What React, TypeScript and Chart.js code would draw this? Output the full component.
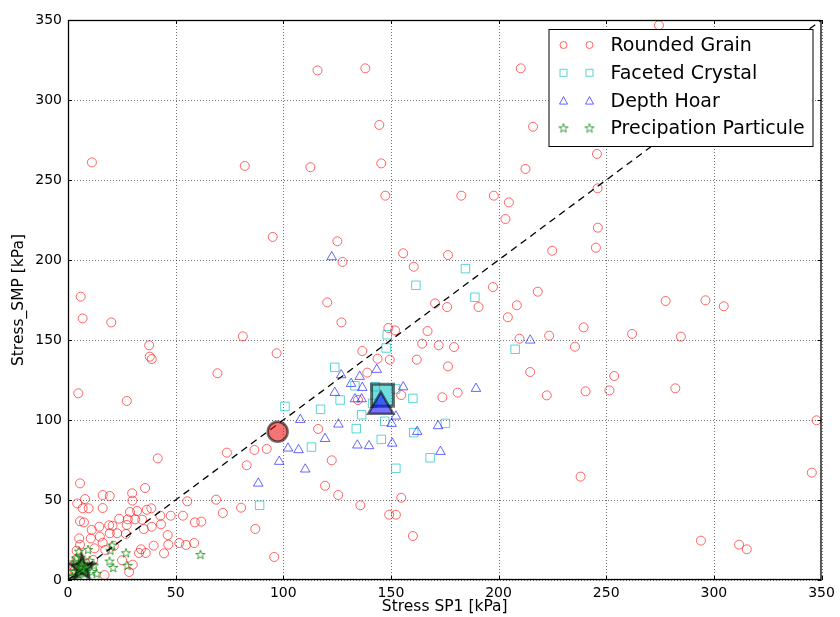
import React, { useEffect, useRef } from "react";
import { Chart, registerables } from "chart.js";

Chart.register(...registerables);

const AXIS_TICKS = [0, 50, 100, 150, 200, 250, 300, 350];
const SERIES_LABELS = ["Rounded Grain", "Faceted Crystal", "Depth Hoar", "Precipation Particule"];
const X_TITLE = "Stress SP1 [kPa]";
const Y_TITLE = "Stress_SMP [kPa]";

const roundedGrain: [number, number][] = [
  [11.1, 261], [82.1, 258.8], [112.6, 258], [115.9, 318.5], [138.1, 319.8], [210.3, 319.8], [144.6, 284.4], [216, 283.3],
  [145.5, 260.4], [212.5, 256.9], [147.4, 240.2], [182.7, 240.2], [197.8, 240.2], [204.8, 236], [274.5, 346.7], [245.7, 266.3],
  [246, 244.8], [95.1, 214.4], [125.1, 211.7], [155.7, 204.2], [176.5, 203.1], [127.5, 198.8], [160.6, 195.8], [197.4, 183.1],
  [120.4, 173.5], [170.5, 172.9], [176.1, 170.6], [190.7, 170.6], [204.3, 164.2], [208.5, 171.7], [203.2, 225.6], [127, 161],
  [148.8, 157.5], [151.9, 156], [167, 155.6], [81.2, 152.3], [96.9, 141.7], [164.5, 147.7], [172.2, 146.7], [179.3, 145.6],
  [136.7, 143.1], [143.8, 138.3], [149.5, 137.7], [162, 137.7], [176.5, 133.5], [139, 129.6], [181, 117.1], [173.9, 114.2],
  [154.8, 115.6], [116.2, 94.4], [134.7, 112.5], [86.6, 81.3], [92.3, 81.9], [83, 71.7], [80.4, 45.2], [87, 31.9],
  [95.8, 14.4], [122.5, 74.8], [119.4, 58.9], [125.5, 53.1], [135.8, 46.7], [154.8, 51.4], [149.2, 40.8], [152.3, 40.8],
  [160.2, 27.5], [246.1, 220.2], [245.2, 207.7], [224.9, 205.8], [218.2, 180.2], [277.6, 174.4], [296.1, 174.8], [304.6, 171.1],
  [239.5, 157.9], [223.5, 152.7], [209.7, 150.8], [262, 153.8], [284.7, 152.1], [235.5, 145.8], [214.7, 130], [253.7, 127.5],
  [222.4, 115.4], [240.4, 117.9], [251.5, 118.5], [282.1, 119.8], [347.7, 99.8], [238.1, 64.6], [345.5, 67.1], [294, 24.6],
  [311.7, 22.1], [315.3, 19.2], [5.9, 177.1], [6.8, 163.5], [20.1, 161], [37.7, 146.7], [38, 139.6], [38.9, 138.1],
  [69.4, 129.2], [4.8, 116.7], [27.3, 111.9], [41.7, 76], [5.6, 60.4], [73.8, 79.6], [35.8, 57.5], [16.1, 53.1],
  [19.4, 52.5], [29.8, 54.2], [7.9, 50.6], [4.3, 47.9], [29.9, 49.6], [55.4, 49.2], [68.8, 50.2], [71.9, 41.9],
  [6.8, 44.8], [9.6, 44.8], [16.1, 45], [28.8, 42.5], [32.1, 43.1], [36.6, 43.9], [38.7, 44.8], [42.9, 40.2],
  [47.7, 40.2], [53.4, 40.2], [58.9, 36], [61.9, 36.5], [5.6, 36.7], [7.4, 36], [14.5, 33.3], [19.1, 34.2],
  [20.7, 33.9], [23.8, 38.3], [27.8, 37.9], [27.3, 34.4], [31.2, 37.9], [34.5, 37.7], [35.2, 31.9], [38.9, 33.3],
  [43.2, 34.8], [46.3, 28.1], [11, 31.3], [5.2, 26], [10.6, 26], [14.8, 27.1], [16.1, 23.3], [19.4, 29.2],
  [22.8, 29.2], [26.9, 28.8], [5.6, 22.1], [4, 18.3], [12.3, 19.8], [17.3, 18.8], [21.3, 21.3], [33.9, 19.2],
  [33, 16.9], [36.1, 16.9], [39.8, 21.5], [44.6, 16.7], [46.6, 22.1], [51.7, 23.1], [54.8, 21.9], [58.6, 23.1],
  [25.1, 12.3], [30.1, 9.6], [28.4, 5], [17, 3.1], [11.7, 12.5], [2.5, 9], [4, 13], [1.5, 4], [8, 11], [3, 6],
];

const facetedCrystal: [number, number][] = [
  [184.6, 194.6], [161.6, 184.2], [189, 176.7], [148.3, 153.3], [207.7, 144.2], [147.8, 145], [123.9, 132.9], [133.3, 121.4],
  [142.7, 120.8], [152.2, 119.4], [160.2, 113.5], [100.8, 108.5], [117.3, 106.7], [126.4, 112.5], [136.4, 103.3], [133.9, 94.6],
  [145.5, 87.9], [147.1, 99.2], [141.5, 110.4], [160.6, 92.1], [175.3, 97.9], [168.2, 76.4], [152.3, 69.8], [113.1, 83.1],
  [89, 46.7],
];

const depthHoar: [number, number][] = [
  [122.5, 201.9], [143.4, 131.5], [126.9, 128.1], [135.5, 127.1], [131.5, 122.7], [136.7, 120.2], [155.7, 120.6], [189.5, 119.6],
  [123.9, 117.1], [107.9, 100.2], [125.6, 97.3], [133.3, 113.1], [136.4, 113.1], [134.4, 84.2], [139.8, 83.8], [150.3, 97.7],
  [152.3, 102.3], [150.6, 85.4], [162.2, 92.7], [171.9, 96.3], [173, 80.2], [119.4, 88.3], [102.2, 82.3], [107.1, 81.3],
  [98.1, 74], [110.2, 69.2], [88.4, 60.4], [214.7, 149.8],
];

const precipParticle: [number, number][] = [
  [9.3, 18.8], [5.1, 17.7], [20.5, 21.5], [19.7, 18.3], [26.9, 16.7], [19.3, 11.5], [21, 7.5], [27.6, 8.8],
  [13.3, 3.8], [3.7, 13.5], [61.5, 15.7], [2, 2], [3, 5], [4, 8], [5, 3], [6, 10], [7, 6], [8, 4], [9, 8],
  [10, 12], [1, 1], [3, 11], [11, 5], [6, 14], [4, 1], [12, 9],
];

const roundedMean: [number, number] = [97.4, 92.7];
const facetedMean: [number, number] = [146.1, 115.5];
const depthMean: [number, number] = [145.3, 108.5];
const precipMean: [number, number] = [6.5, 7.5];

const identityLine: [number, number][] = [[0, 0], [350, 350]];

const RED = "rgba(255,0,0,0.6)";
const CYAN = "rgba(0,191,191,0.65)";
const BLUE = "rgba(0,0,255,0.6)";
const GREEN = "rgba(0,128,0,0.75)";
const FONT = "'DejaVu Sans', sans-serif";

function starPath(ctx: CanvasRenderingContext2D, cx: number, cy: number, R: number) {
  ctx.beginPath();
  for (let i = 0; i < 10; i++) {
    const r = i % 2 === 0 ? R : R * 0.4;
    const a = -Math.PI / 2 + (i * Math.PI) / 5;
    const px = cx + r * Math.cos(a);
    const py = cy + r * Math.sin(a);
    if (i === 0) ctx.moveTo(px, py);
    else ctx.lineTo(px, py);
  }
  ctx.closePath();
}

function makeStar(R: number, stroke: string, fill: string | null, lw: number) {
  const c = document.createElement("canvas");
  const s = Math.ceil(2 * R + 2 * lw + 2);
  c.width = s;
  c.height = s;
  const ctx = c.getContext("2d")!;
  starPath(ctx, s / 2, s / 2, R);
  if (fill) {
    ctx.fillStyle = fill;
    ctx.fill();
  }
  ctx.lineWidth = lw;
  ctx.strokeStyle = stroke;
  ctx.lineJoin = "miter";
  ctx.stroke();
  return c;
}

const toPts = (a: [number, number][]) => a.map(([x, y]) => ({ x, y }));

export default function App() {
  const ref = useRef<HTMLCanvasElement>(null);

  useEffect(() => {
    document.body.style.margin = "0";
    const canvas = ref.current!;
    const smallStar = makeStar(4.8, GREEN, null, 1);
    const bigStar = makeStar(13, "rgba(0,0,0,0.65)", "rgba(0,110,0,0.65)", 2.5);

    const decor = {
      id: "decor",
      beforeDatasetsDraw(chart: any) {
        const { ctx, chartArea: a, scales } = chart;
        ctx.save();
        ctx.strokeStyle = "rgba(0,0,0,0.55)";
        ctx.lineWidth = 1;
        ctx.setLineDash([1, 2]);
        for (const v of AXIS_TICKS) {
          const x = Math.round(scales.x.getPixelForValue(v)) + 0.5;
          ctx.beginPath();
          ctx.moveTo(x, a.top);
          ctx.lineTo(x, a.bottom);
          ctx.stroke();
          const y = Math.round(scales.y.getPixelForValue(v)) + 0.5;
          ctx.beginPath();
          ctx.moveTo(a.left, y);
          ctx.lineTo(a.right, y);
          ctx.stroke();
        }
        ctx.restore();
      },
      afterDraw(chart: any) {
        const { ctx, chartArea: a, scales } = chart;
        ctx.save();
        ctx.strokeStyle = "#000";
        ctx.lineWidth = 1.3;
        ctx.setLineDash([]);
        ctx.strokeRect(a.left + 0.5, a.top + 0.5, a.right - a.left - 1, a.bottom - a.top - 1);
        ctx.lineWidth = 1;
        for (const v of AXIS_TICKS) {
          const x = Math.round(scales.x.getPixelForValue(v)) + 0.5;
          const y = Math.round(scales.y.getPixelForValue(v)) + 0.5;
          ctx.beginPath();
          ctx.moveTo(x, a.bottom);
          ctx.lineTo(x, a.bottom - 4);
          ctx.moveTo(x, a.top);
          ctx.lineTo(x, a.top + 4);
          ctx.moveTo(a.left, y);
          ctx.lineTo(a.left + 4, y);
          ctx.moveTo(a.right, y);
          ctx.lineTo(a.right - 4, y);
          ctx.stroke();
        }
        const bw = 264;
        const bh = 117;
        const bx = a.right - 9 - bw;
        const by = a.top + 9;
        ctx.fillStyle = "#fff";
        ctx.fillRect(bx, by, bw, bh);
        ctx.strokeStyle = "#000";
        ctx.lineWidth = 1;
        ctx.strokeRect(bx + 0.5, by + 0.5, bw, bh);
        ctx.font = `19px ${FONT}`;
        ctx.textBaseline = "middle";
        ctx.textAlign = "left";
        SERIES_LABELS.forEach((label, i) => {
          const ry = by + 16 + i * 27.8;
          [bx + 15, bx + 41].forEach((mx) => {
            ctx.lineWidth = 1;
            if (i === 0) {
              ctx.strokeStyle = RED;
              ctx.beginPath();
              ctx.arc(mx, ry, 3.5, 0, Math.PI * 2);
              ctx.stroke();
            } else if (i === 1) {
              ctx.strokeStyle = CYAN;
              ctx.strokeRect(mx - 3.5, ry - 3.5, 7, 7);
            } else if (i === 2) {
              ctx.strokeStyle = BLUE;
              ctx.beginPath();
              ctx.moveTo(mx, ry - 4);
              ctx.lineTo(mx + 4, ry + 3.5);
              ctx.lineTo(mx - 4, ry + 3.5);
              ctx.closePath();
              ctx.stroke();
            } else {
              ctx.drawImage(smallStar, mx - smallStar.width / 2, ry - smallStar.height / 2);
            }
          });
          ctx.fillStyle = "#000";
          ctx.fillText(label, bx + 62, ry + 1);
        });
        ctx.restore();
      },
    };

    const small = (data: [number, number][], style: any, color: string, radius: number, order: number, label: string) => ({
      type: "scatter",
      label,
      data: toPts(data),
      pointStyle: style,
      pointRadius: radius,
      pointBorderColor: color,
      pointBackgroundColor: "rgba(0,0,0,0)",
      pointBorderWidth: 1,
      clip: 0,
      order,
    });

    const mean = (pt: [number, number], style: any, fill: string, radius: number, bw: number, order: number) => ({
      type: "scatter",
      label: "mean",
      data: [{ x: pt[0], y: pt[1] }],
      pointStyle: style,
      pointRadius: radius,
      pointBorderColor: "rgba(0,0,0,0.55)",
      pointBackgroundColor: fill,
      pointBorderWidth: bw,
      clip: 0,
      order,
    });

    const chart = new Chart(canvas, {
      type: "scatter",
      data: {
        datasets: [
          mean(depthMean, "triangle", "rgba(0,0,255,0.55)", 14.5, 2.5, 0),
          mean(facetedMean, "rect", "rgba(0,191,191,0.55)", 15.5, 3, 0.5),
          mean(roundedMean, "circle", "rgba(235,0,0,0.55)", 10, 2.5, 0),
          mean(precipMean, bigStar, "rgba(0,0,0,0)", 13, 1, 0),
          {
            type: "line",
            label: "identity",
            data: toPts(identityLine),
            borderColor: "#000",
            borderWidth: 1.3,
            borderDash: [7, 5],
            pointRadius: 0,
            fill: false,
            clip: 0,
            order: 1,
          } as any,
          small(roundedGrain, "circle", RED, 4.5, 5, SERIES_LABELS[0]),
          small(facetedCrystal, "rect", CYAN, 6, 4, SERIES_LABELS[1]),
          small(depthHoar, "triangle", BLUE, 5.5, 3, SERIES_LABELS[2]),
          small(precipParticle, smallStar, GREEN, 5, 2, SERIES_LABELS[3]),
        ] as any,
      },
      options: {
        animation: false,
        responsive: false,
        maintainAspectRatio: false,
        events: [],
        layout: { padding: { left: 0, top: 20, right: 16, bottom: 0 } },
        plugins: { legend: { display: false }, tooltip: { enabled: false } },
        scales: {
          x: {
            type: "linear",
            min: 0,
            max: 350,
            afterBuildTicks: (s: any) => {
              s.ticks = AXIS_TICKS.map((v) => ({ value: v }));
            },
            afterFit: (s: any) => {
              s.height = 37;
            },
            grid: { display: false, drawTicks: false },
            border: { display: false },
            ticks: { color: "#000", font: { family: FONT, size: 14 }, padding: 5, maxRotation: 0 },
            title: { display: true, text: X_TITLE, color: "#000", font: { family: FONT, size: 15.5 }, padding: { top: 0, bottom: 1 } },
          },
          y: {
            type: "linear",
            min: 0,
            max: 350,
            afterBuildTicks: (s: any) => {
              s.ticks = AXIS_TICKS.map((v) => ({ value: v }));
            },
            afterFit: (s: any) => {
              s.width = 68;
            },
            grid: { display: false, drawTicks: false },
            border: { display: false },
            ticks: { color: "#000", font: { family: FONT, size: 14 }, padding: 6 },
            title: { display: true, text: Y_TITLE, color: "#000", font: { family: FONT, size: 15.5 }, padding: { top: 10, bottom: 0 } },
          },
        },
      } as any,
      plugins: [decor],
    });

    return () => chart.destroy();
  }, []);

  return (
    <div style={{ width: 840, height: 617 }}>
      <canvas ref={ref} width={840} height={617} style={{ display: "block" }} />
    </div>
  );
}
